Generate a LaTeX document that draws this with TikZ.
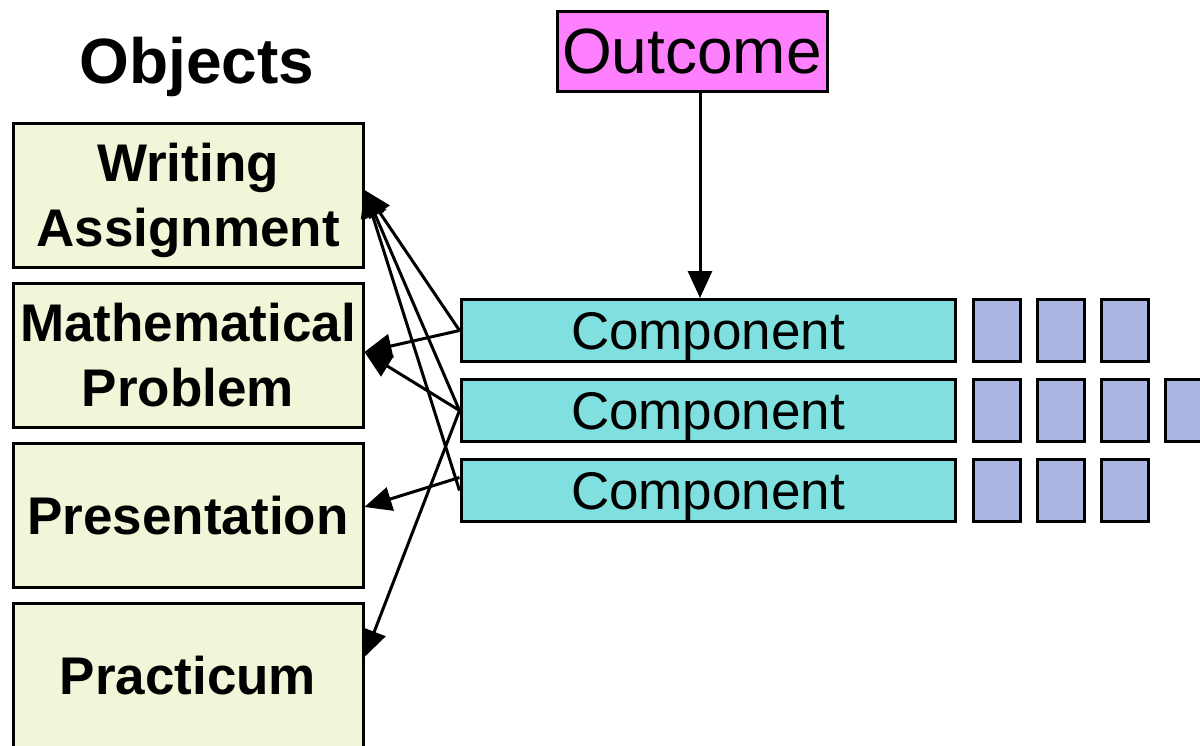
\documentclass[tikz,border=0pt]{standalone}
\usepackage{fontspec}
\setmainfont{Liberation Sans}
\usepackage{tikz}
\usetikzlibrary{positioning, arrows.meta}

\definecolor{objfill}{HTML}{F3F5D8}
\definecolor{compfill}{HTML}{80E0E0}
\definecolor{outfill}{HTML}{FF80FF}
\definecolor{cellfill}{HTML}{ABB5E3}

\tikzset{
  obj/.style={draw, line width=3pt, fill=objfill, minimum width=350pt, minimum height=144pt,
    inner sep=0pt, align=center, text depth=0pt, font=\fontsize{53}{65}\selectfont\bfseries},
  comp/.style={draw, line width=3pt, fill=compfill, minimum width=494pt, minimum height=62pt,
    inner sep=0pt, text depth=0pt, font=\fontsize{53}{63}\selectfont},
  cell/.style={draw, line width=3pt, fill=cellfill, minimum width=47pt, minimum height=62pt, inner sep=0pt},
  link/.style={line width=3pt, -{Triangle[length=27pt,width=24pt]}}
}

\begin{document}
\begin{tikzpicture}[x=1pt,y=-1pt]
\useasboundingbox (0,0) rectangle (1200,745);
\clip (0,0) rectangle (1200,745);

% Objects column
\node (head) at (197,67) {\fontsize{64}{70}\selectfont\bfseries Objects};
\node[obj] (wa) at (188,195) {Writing\\Assignment};
\node[obj] (mp) at (188,355) {Mathematical\\Problem};
\node[obj] (pres) at (188,515) {Presentation};
\node[obj] (prac) at (188,675) {Practicum};

% Outcome and its components
\node[draw, line width=3pt, fill=outfill, minimum width=270pt, minimum height=80pt, inner sep=0pt,
  font=\fontsize{64}{70}\selectfont] (out) at (692,51.5) {Outcome};
\node[comp] (comp1) at (708,330.5) {Component};
\node[comp] (comp2) at (708,410.5) {Component};
\node[comp] (comp3) at (708,490.5) {Component};

% Cells next to each component
\foreach \r/\n in {1/3, 2/4, 3/3}
  \foreach \i in {1,...,\n}
    \node[cell] (cell\r\i) at (932.5+64*\i, 250.5+80*\r) {};

% Arrows
\draw[link] ([xshift=8pt]out.south) -- ([xshift=-8pt]comp1.north);
\draw[link] (comp1.west) -- ([yshift=5pt]wa.east);
\draw[link] (comp2.west) -- ([yshift=5pt]wa.east);
\draw[link] (comp3.west) -- ([yshift=5pt]wa.east);
\draw[link] (comp1.west) -- ([yshift=3pt]mp.east);
\draw[link] (comp2.west) -- ([yshift=3pt]mp.east);
\draw[link] ([yshift=13pt]comp3.west) -- ([yshift=8pt]pres.east);
\draw[link] (comp2.west) -- ([yshift=18pt]prac.east);

\end{tikzpicture}
\end{document}
